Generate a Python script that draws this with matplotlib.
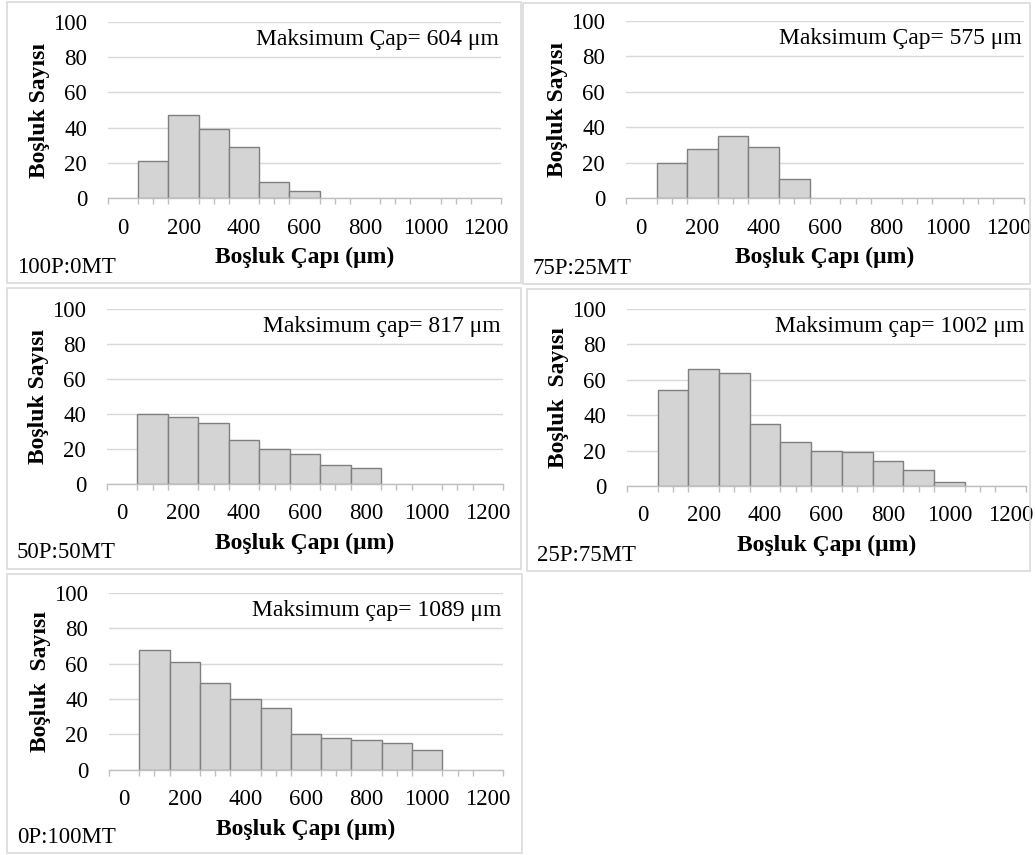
"""
Boşluk çapı dağılımları (5 panel histogram)
"""

import matplotlib

matplotlib.use("Agg")
import matplotlib.pyplot as plt
from matplotlib.patches import Rectangle

plt.rcParams["font.family"] = ["Liberation Serif", "DejaVu Serif"]

# bin centres (um), bins are 100 um wide
bin_centers = [100, 200, 300, 400, 500, 600, 700, 800, 900, 1000]

counts_100P = [21, 47, 39, 29, 9, 4]
counts_75P = [20, 28, 35, 29, 11]
counts_50P = [40, 38, 35, 25, 20, 17, 11, 9]
counts_25P = [54, 66, 64, 35, 25, 20, 19, 14, 9, 2]
counts_0P = [68, 61, 49, 40, 35, 20, 18, 17, 15, 11]

panel_names = ["100P:0MT", "75P:25MT", "50P:50MT", "25P:75MT", "0P:100MT"]
max_texts = [
    "Maksimum Çap= 604 μm",
    "Maksimum Çap= 575 μm",
    "Maksimum çap= 817 μm",
    "Maksimum çap= 1002 μm",
    "Maksimum çap= 1089 μm",
]
ylabels = ["Boşluk Sayısı", "Boşluk Sayısı", "Boşluk Sayısı", "Boşluk  Sayısı", "Boşluk  Sayısı"]
xlabel = "Boşluk Çapı (μm)"

W, H = 1035, 855

# pixel layouts: (left, top, right, bottom)
frames = [
    (7, 2, 521, 283),
    (523, 3, 1030, 284),
    (7, 288, 521, 569),
    (527, 289, 1030, 571),
    (7, 574, 522, 853),
]
plot_boxes = [
    (108, 21.7, 501, 198.3),
    (626, 21, 1024, 198.3),
    (107, 309, 503, 484),
    (627, 309, 1026, 486),
    (109, 593, 503, 769.7),
]

BAR = "#d4d4d4"
EDGE = "#7f7f7f"
GRID = "#d9d9d9"
AXIS = "#bfbfbf"


def frac(x, y):
    return x / W, 1 - y / H


def plot():
    fig = plt.figure(figsize=(W / 100, H / 100), dpi=100)
    fig.patch.set_facecolor("white")

    all_counts = [counts_100P, counts_75P, counts_50P, counts_25P, counts_0P]

    for i, counts in enumerate(all_counts):
        fl, ft, fr, fb = frames[i]
        x0, y0 = frac(fl, fb)
        fig.patches.append(
            Rectangle(
                (x0, y0), (fr - fl) / W, (fb - ft) / H,
                transform=fig.transFigure, fill=False,
                edgecolor="#dadada", linewidth=1.2,
            )
        )

        l, t, r, b = plot_boxes[i]
        ax = fig.add_axes([l / W, 1 - b / H, (r - l) / W, (b - t) / H])
        ax.set_facecolor("none")

        ax.bar(bin_centers[: len(counts)], counts, width=100,
               color=BAR, edgecolor=EDGE, linewidth=1.0, zorder=3)

        ax.set_xlim(-50, 1250)
        ax.set_ylim(0, 100)
        ax.set_yticks(range(0, 101, 20))
        ax.set_xticks(range(0, 1201, 200))
        ax.set_xticks(range(-50, 1251, 50), minor=True)
        ax.yaxis.grid(True, color=GRID, linewidth=1.0, zorder=0)
        ax.set_axisbelow(True)

        for s in ["top", "right", "left"]:
            ax.spines[s].set_visible(False)
        ax.spines["bottom"].set_color(AXIS)
        ax.spines["bottom"].set_linewidth(1.0)
        ax.spines["bottom"].set_zorder(4)

        ax.tick_params(axis="y", length=0, pad=15, labelsize=16.5)
        ax.tick_params(axis="x", which="major", length=0, pad=14, labelsize=16.5)
        ax.tick_params(axis="x", which="minor", length=4, width=1.0,
                       color=AXIS, direction="out")

        ax.set_xlabel(xlabel, fontsize=17, fontweight="bold", labelpad=6)
        ax.set_ylabel(ylabels[i], fontsize=17, fontweight="bold", labelpad=2)

        ax.text(0.995, 0.9, max_texts[i], transform=ax.transAxes,
                ha="right", va="center", fontsize=17)

        fig.text(fl / W + 10 / W, 1 - (fb - 16) / H, panel_names[i],
                 ha="left", va="center", fontsize=16.5)

    fig.savefig("out.png", dpi=100)


if __name__ == "__main__":
    plot()
